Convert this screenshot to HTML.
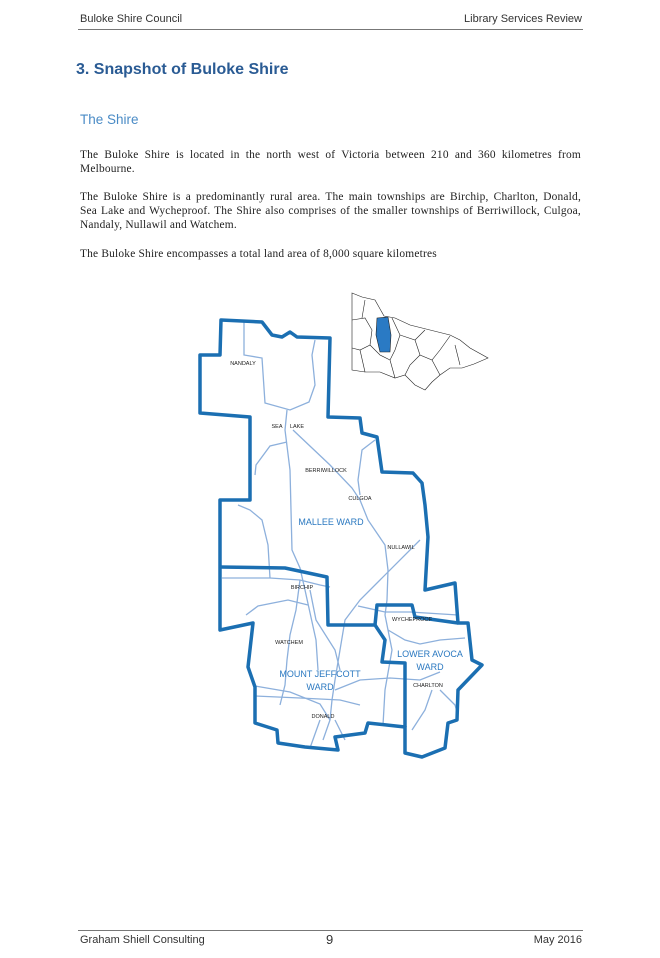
<!DOCTYPE html>
<html><head><meta charset="utf-8"><style>
body{margin:0;background:#fff;width:660px;height:958px;position:relative;overflow:hidden;font-family:"Liberation Serif",serif;}
.a{position:absolute;white-space:nowrap}
.hd{font-family:"Liberation Sans",sans-serif;font-size:11px;color:#333}
.l{position:absolute;left:80px;width:501px;font-size:11.4px;line-height:14px;color:#222;text-align:justify;text-align-last:justify;white-space:nowrap;letter-spacing:0.2px}
.n{text-align-last:left}
</style></head><body>
<div class="a hd" style="left:80px;top:13px">Buloke Shire Council</div>
<div class="a hd" style="right:78px;top:13px">Library Services Review</div>
<div class="a" style="left:78px;top:29px;width:505px;border-top:1px solid #777"></div>
<div class="a" style="left:76px;top:61px;font-family:'Liberation Sans',sans-serif;font-weight:bold;font-size:16px;color:#2a5b94">3. Snapshot of Buloke Shire</div>
<div class="a" style="left:80px;top:112px;font-family:'Liberation Sans',sans-serif;font-size:13.5px;color:#4a8bc6">The Shire</div>
<div class="l" style="top:148px">The Buloke Shire is located in the north west of Victoria between 210 and 360 kilometres from</div>
<div class="l n" style="top:162px">Melbourne.</div>
<div class="l" style="top:190px">The Buloke Shire is a predominantly rural area. The main townships are Birchip, Charlton, Donald,</div>
<div class="l" style="top:204px">Sea Lake and Wycheproof. The Shire also comprises of the smaller townships of Berriwillock, Culgoa,</div>
<div class="l n" style="top:218px">Nandaly, Nullawil and Watchem.</div>
<div class="l n" style="top:247px">The Buloke Shire encompasses a total land area of 8,000 square kilometres</div>

<svg class="a" style="left:0;top:0" width="660" height="958">
<g fill="none" stroke="#8db0dc" stroke-width="1.3">
<polyline points="244,322 244,355 262,358 265,403 290,410 309,402 315,385 312,355 315,340"/>
<polyline points="287,410 285,430 290,470 292,550 300,568 305,590 316,640 318,670"/>
<polyline points="293,430 330,465 352,488 360,500 368,520 385,545 388,570 387,600 385,615 392,650 385,690 383,725"/>
<polyline points="375,440 362,450 358,480 360,495"/>
<polyline points="287,442 270,446 256,465 255,475"/>
<polyline points="238,505 250,510 262,520 268,545 270,578"/>
<polyline points="222,578 270,578 300,580 320,585 330,587"/>
<polyline points="420,540 380,580 360,600 345,620 340,650 335,680 332,700 330,720 323,740"/>
<polyline points="300,580 296,610 290,635 287,660 285,685 280,705"/>
<polyline points="308,605 288,600 258,606 246,615"/>
<polyline points="310,590 316,620 335,650 340,670"/>
<polyline points="358,606 385,612 410,612 458,615"/>
<polyline points="388,630 405,640 420,644 440,640 465,638"/>
<polyline points="255,686 290,692 320,704 330,720"/>
<polyline points="255,696 300,698 340,700 360,705"/>
<polyline points="335,690 360,680 390,678 420,680 440,672"/>
<polyline points="432,690 425,710 412,730"/>
<polyline points="335,720 345,740"/>
<polyline points="320,720 310,748"/>
<polyline points="440,690 455,705 458,715"/>
</g>
<g fill="none" stroke="#1b6fb2" stroke-width="3.5" stroke-linejoin="round">
<polygon points="221,320 262,322 272,335 282,337 290,332 297,337 330,338 328,417 360,418 362,433 377,437 382,472 413,473 422,483 425,505 428,537 425,590 455,583 458,623 468,623 472,660 482,665 458,690 457,720 448,723 445,748 422,757 405,753 405,727 368,723 365,733 335,737 338,750 305,747 278,743 277,730 255,723 255,687 248,667 253,623 220,630 220,567 220,500 250,500 250,417 200,413 200,355 220,355"/>
<polyline points="220,567 285,568 327,577 328,625 375,625 385,640 382,662 405,663 405,727"/>
<polyline points="375,625 377,605 412,605 415,617 458,623"/>
</g>
<g font-family="Liberation Sans,sans-serif" font-size="5.5" fill="#222" text-anchor="middle">
<text x="243" y="365">NANDALY</text><text x="277" y="428">SEA</text><text x="297" y="428">LAKE</text>
<text x="326" y="472">BERRIWILLOCK</text><text x="360" y="500">CULGOA</text><text x="401" y="549">NULLAWIL</text>
<text x="302" y="589">BIRCHIP</text><text x="412" y="621">WYCHEPROOF</text><text x="289" y="644">WATCHEM</text>
<text x="428" y="687">CHARLTON</text><text x="323" y="718">DONALD</text>
</g>
<g font-family="Liberation Sans,sans-serif" font-size="9" fill="#2a78c0" text-anchor="middle">
<text x="331" y="525">MALLEE WARD</text>
<text x="320" y="677">MOUNT JEFFCOTT</text><text x="320" y="690">WARD</text>
<text x="430" y="657">LOWER AVOCA</text><text x="430" y="670">WARD</text>
</g>
<g fill="none" stroke="#222" stroke-width="0.6">
<polygon points="352,293 362,297 375,300 384,316 395,318 410,325 430,330 450,335 460,340 470,348 488,358 474,364 462,368 450,368 440,375 432,382 425,390 415,385 405,375 395,378 380,372 365,372 352,370"/>
<polyline points="352,320 365,318 372,330 370,345 360,350 352,348"/>
<polyline points="360,350 365,372"/>
<polyline points="392,318 400,335 395,350 390,360 395,378"/>
<polyline points="400,335 415,340 425,330"/>
<polyline points="415,340 420,355 432,360 440,350 450,336"/>
<polyline points="420,355 410,365 405,375"/>
<polyline points="432,360 440,375"/>
<polyline points="370,345 380,355 390,360"/>
<polyline points="365,300 362,318"/>
<polyline points="455,345 460,365"/>
</g>
<polygon points="377,318 388,317 391,335 390,352 380,352 376,335" fill="#2a7ac4" stroke="#222" stroke-width="0.6"/>
</svg>

<div class="a" style="left:78px;top:930px;width:505px;border-top:1px solid #777"></div>
<div class="a hd" style="left:80px;top:934px">Graham Shiell Consulting</div>
<div class="a hd" style="left:326px;top:932px;font-size:13px">9</div>
<div class="a hd" style="right:78px;top:934px">May 2016</div>
</body></html>
